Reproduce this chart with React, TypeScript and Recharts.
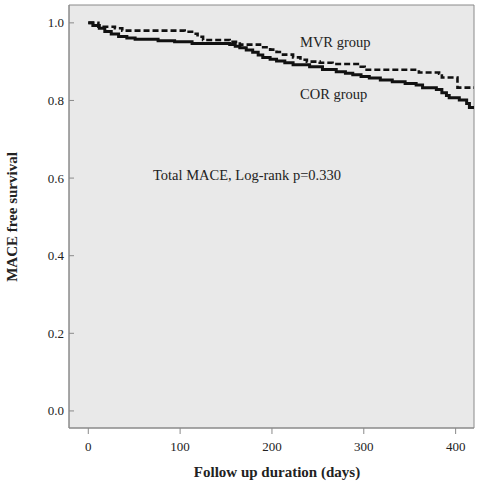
import React from 'react';
import { LineChart, Line, XAxis, YAxis, ReferenceArea, CartesianGrid } from 'recharts';

// Kaplan-Meier steps (days, survival)
const corDays = [0, 5, 12, 18, 25, 33, 42, 51, 76, 94, 113, 154, 160, 165, 172, 179, 185, 190, 198, 205, 214, 223, 241, 255, 270, 280, 288, 297, 306, 318, 331, 345, 357, 364, 379, 385, 390, 393, 404, 412, 415, 420];
const corSurv = [1.0, 0.993, 0.986, 0.978, 0.971, 0.965, 0.961, 0.958, 0.954, 0.951, 0.947, 0.944, 0.94, 0.936, 0.93, 0.924, 0.917, 0.911, 0.906, 0.902, 0.897, 0.892, 0.887, 0.88, 0.874, 0.87, 0.866, 0.862, 0.858, 0.853, 0.848, 0.844, 0.84, 0.833, 0.828, 0.82, 0.813, 0.807, 0.801, 0.792, 0.782, 0.782];

const mvrDays = [0, 11, 29, 37, 105, 113, 119, 125, 154, 165, 187, 198, 205, 212, 223, 231, 238, 252, 266, 295, 301, 360, 382, 385, 402, 420];
const mvrSurv = [1.0, 0.99, 0.986, 0.98, 0.977, 0.972, 0.964, 0.956, 0.951, 0.944, 0.937, 0.931, 0.925, 0.918, 0.911, 0.905, 0.9, 0.897, 0.894, 0.887, 0.879, 0.872, 0.869, 0.859, 0.833, 0.833];

const xTicks = [0, 100, 200, 300, 400];
const yTicks = [0, 0.2, 0.4, 0.6, 0.8, 1.0];

const corData = corDays.map((d, i) => ({ day: d, surv: corSurv[i] }));
const mvrData = mvrDays.map((d, i) => ({ day: d, surv: mvrSurv[i] }));

const FONT = '"Liberation Serif", "DejaVu Serif", serif';
const X_MIN = -21;
const X_MAX = 420;
const Y_MIN = -0.044;
const Y_MAX = 1.046;

const YTick = (props: any) => {
  const { x, y, payload } = props;
  return (
    <g>
      <line x1={x + 5} x2={x + 10} y1={y} y2={y} stroke="#8a8a8a" />
      <text x={x} y={y} textAnchor="end" dominantBaseline="central" fontFamily={FONT} fontSize={13} fill="#222">
        {Number(payload.value).toFixed(1)}
      </text>
    </g>
  );
};

export default function App() {
  return (
    <div style={{ position: 'absolute', left: 0, top: 0, width: 480, height: 487, background: '#fff' }}>
      <LineChart width={480} height={487} margin={{ top: 5, right: 6, bottom: 0, left: 0 }}>
        <CartesianGrid fill="#e9e9e9" fillOpacity={1} horizontal={false} vertical={false} />
        <ReferenceArea
          x1={X_MIN}
          x2={X_MAX}
          y1={Y_MIN}
          y2={Y_MAX}
          fill="none"
          stroke="#8a8a8a"
          strokeWidth={1}
        />
        <XAxis
          type="number"
          dataKey="day"
          domain={[X_MIN, X_MAX]}
          ticks={xTicks}
          allowDataOverflow
          height={59}
          tickSize={6}
          tickMargin={8}
          axisLine={{ stroke: '#8a8a8a' }}
          tickLine={{ stroke: '#8a8a8a' }}
          tick={{ fontFamily: FONT, fontSize: 13, fill: '#222' }}
        />
        <YAxis
          type="number"
          domain={[Y_MIN, Y_MAX]}
          ticks={yTicks}
          allowDataOverflow
          width={69}
          tickSize={0}
          tickMargin={5}
          tickLine={false}
          axisLine={{ stroke: '#8a8a8a' }}
          tick={<YTick />}
        />
        <Line
          data={mvrData}
          dataKey="surv"
          type="stepAfter"
          stroke="#111"
          strokeWidth={2.6}
          strokeDasharray="6 3"
          dot={false}
          isAnimationActive={false}
        />
        <Line
          data={corData}
          dataKey="surv"
          type="stepAfter"
          stroke="#111"
          strokeWidth={3}
          dot={false}
          isAnimationActive={false}
        />
        <text x={300} y={47} fontFamily={FONT} fontSize={14.5} fill="#222">MVR group</text>
        <text x={300} y={99} fontFamily={FONT} fontSize={14.5} fill="#222">COR group</text>
        <text x={153} y={180} fontFamily={FONT} fontSize={14.5} fill="#222">Total MACE, Log-rank p=0.330</text>
        <text x={277} y={477} textAnchor="middle" fontFamily={FONT} fontSize={15} fontWeight="bold" fill="#222">
          Follow up duration (days)
        </text>
        <text
          x={12}
          y={217}
          transform="rotate(-90 12 217)"
          textAnchor="middle"
          dominantBaseline="central"
          fontFamily={FONT}
          fontSize={15}
          fontWeight="bold"
          fill="#222"
        >
          MACE free survival
        </text>
      </LineChart>
    </div>
  );
}
